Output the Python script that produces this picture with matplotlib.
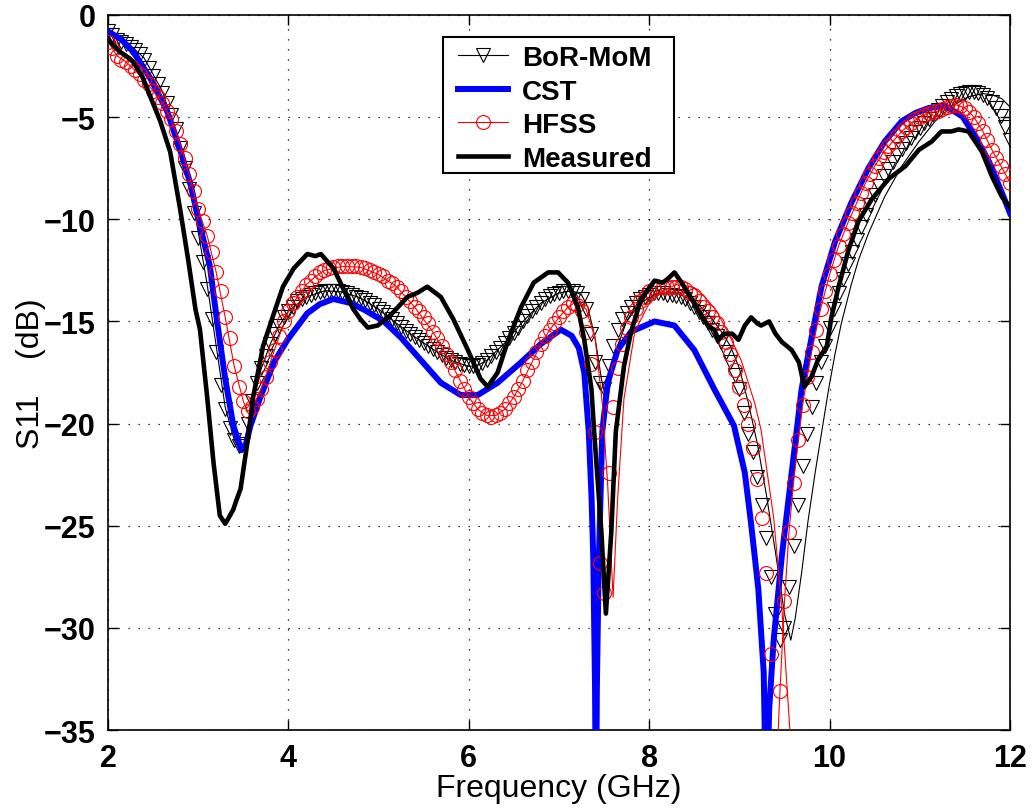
import numpy as np
import matplotlib
matplotlib.use("Agg")
import matplotlib.pyplot as plt
from matplotlib.lines import Line2D
from matplotlib.patches import Rectangle

plt.rcParams['font.family'] = ['Liberation Sans', 'DejaVu Sans']

# ---------------- data ----------------
# marker frequency grid (GHz), 0.05 GHz step
marker_freq = np.round(np.arange(2.0, 12.0001, 0.05), 2)

bor_markers = [
    -0.8, -1.0, -1.2, -1.3, -1.4, -1.55, -1.7, -1.9, -2.2, -2.6,
    -3.0, -3.4, -3.8, -4.3, -4.9, -5.6, -6.5, -7.5, -8.5, -9.7,
    -10.9, -12.1, -13.4, -14.9, -16.5, -18.1, -19.3, -20.2, -20.8, -21.1,
    -21.0, -20.0, -18.9, -18.0, -17.3, -16.7, -16.1, -15.6, -15.2, -14.8,
    -14.5, -14.3, -14.0, -13.9, -13.8, -13.7, -13.6, -13.55, -13.5, -13.5,
    -13.5, -13.5, -13.55, -13.6, -13.7, -13.8, -13.85, -13.95, -14.1, -14.2,
    -14.4, -14.55, -14.7, -14.9, -15.1, -15.25, -15.45, -15.6, -15.75, -15.9,
    -16.05, -16.2, -16.35, -16.5, -16.65, -16.8, -16.9, -17.0, -17.1, -17.15,
    -17.2, -17.2, -17.15, -17.05, -16.9, -16.7, -16.5, -16.3, -16.05, -15.8,
    -15.55, -15.3, -15.0, -14.75, -14.5, -14.3, -14.1, -13.9, -13.75, -13.65,
    -13.6, -13.5, -13.5, -13.5, -13.6, -13.9, -14.4, -15.6, -17.0, -18.0,
    -18.3, -17.2, -16.2, -15.4, -14.9, -14.6, -14.3, -14.1, -13.9, -13.8,
    -13.7, -13.6, -13.6, -13.6, -13.7, -13.7, -13.75, -13.8, -13.9, -14.1,
    -14.3, -14.55, -14.8, -15.1, -15.4, -15.7, -16.0, -16.5, -17.0, -17.6,
    -18.3, -19.5, -20.5, -21.4, -22.6, -24.0, -25.6, -27.5, -29.3, -30.6,
    -30.0, -28.0, -26.0, -24.0, -22.1, -20.5, -19.2, -18.0, -17.0, -16.2,
    -15.3, -14.4, -13.6, -12.9, -12.2, -11.6, -11.0, -10.4, -9.8, -9.3,
    -8.8, -8.35, -7.9, -7.55, -7.2, -6.85, -6.55, -6.25, -6.0, -5.75,
    -5.55, -5.3, -5.1, -4.85, -4.65, -4.45, -4.25, -4.1, -3.95, -3.85,
    -3.8, -3.75, -3.75, -3.8, -3.9, -4.05, -4.25, -4.55, -4.95, -5.5,
    -6.1,
]

hfss_markers = [
    -1.3, -1.6, -2.0, -2.2, -2.3, -2.5, -2.7, -2.9, -3.2, -3.4,
    -3.7, -4.0, -4.3, -4.7, -5.1, -5.7, -6.3, -7.0, -7.8, -8.6,
    -9.5, -10.1, -10.8, -11.6, -12.6, -13.5, -14.8, -15.8, -17.2, -18.2,
    -18.9, -19.4, -19.2, -18.8, -18.3, -17.7, -17.0, -16.4, -15.7, -15.0,
    -14.5, -14.1, -13.8, -13.5, -13.2, -13.0, -12.8, -12.6, -12.5, -12.4,
    -12.35, -12.3, -12.3, -12.3, -12.3, -12.3, -12.35, -12.4, -12.5, -12.6,
    -12.7, -12.8, -13.0, -13.1, -13.3, -13.5, -13.8, -14.0, -14.3, -14.5,
    -14.8, -15.1, -15.5, -15.8, -16.2, -16.6, -17.0, -17.4, -17.9, -18.3,
    -18.7, -19.0, -19.3, -19.5, -19.6, -19.7, -19.6, -19.5, -19.3, -19.0,
    -18.7, -18.3, -17.9, -17.4, -17.0, -16.5, -16.1, -15.7, -15.4, -15.1,
    -14.8, -14.5, -14.3, -14.1, -14.2, -14.5, -15.5, -17.1, -20.4, -26.8,
    -28.3, -22.4, -19.2, -17.3, -16.1, -15.3, -14.8, -14.4, -14.0, -13.8,
    -13.5, -13.4, -13.3, -13.3, -13.3, -13.3, -13.3, -13.3, -13.4, -13.6,
    -13.7, -14.0, -14.3, -14.5, -14.8, -15.1, -15.5, -16.0, -16.6, -17.4,
    -18.2, -19.1, -20.0, -21.2, -22.7, -24.6, -27.3, -31.3, -38.0, -33.1,
    -28.7, -25.3, -22.9, -20.8, -19.1, -17.7, -16.5, -15.4, -14.4, -13.5,
    -12.7, -12.0, -11.3, -10.7, -10.2, -9.7, -9.2, -8.7, -8.2, -7.8,
    -7.4, -7.0, -6.7, -6.4, -6.2, -5.9, -5.7, -5.5, -5.3, -5.1,
    -5.0, -4.9, -4.8, -4.75, -4.7, -4.6, -4.5, -4.45, -4.4, -4.45,
    -4.55, -4.75, -5.0, -5.3, -5.7, -6.1, -6.6, -7.0, -7.4, -7.8,
    -8.2,
]

bor_line_freq = [2.0, 2.2, 2.4, 2.6, 2.8, 2.9, 3.0, 3.1, 3.2, 3.3, 3.4, 3.45, 3.5,
                 3.55, 3.6, 3.7, 3.8, 3.9, 4.0, 4.2, 4.4, 4.6, 4.8, 5.0, 5.2, 5.4,
                 5.6, 5.8, 6.0, 6.1, 6.2, 6.4, 6.6, 6.8, 7.0, 7.15, 7.25, 7.32, 7.4,
                 7.47, 7.53, 7.58, 7.65, 7.75, 7.9, 8.1, 8.3, 8.5, 8.65, 8.8, 8.9,
                 9.0, 9.1, 9.2, 9.3, 9.4, 9.5, 9.57, 9.62, 9.69, 9.76, 9.84, 9.92,
                 9.99, 10.06, 10.13, 10.24, 10.32, 10.43, 10.61, 10.8, 10.99, 11.17,
                 11.36, 11.54, 11.7, 11.8, 11.91, 12.0]
bor_line_db = [-0.7, -1.3, -2.1, -3.7, -6.3, -8.3, -10.6, -13.2, -16.2, -19.2, -20.8,
               -21.2, -21.1, -20.2, -19.0, -17.3, -16.1, -15.2, -14.5, -13.8, -13.5,
               -13.55, -13.85, -14.4, -15.1, -15.75, -16.35, -16.9, -17.2, -17.15,
               -16.9, -16.05, -15.0, -14.1, -13.6, -13.5, -13.7, -14.3, -15.8, -17.8,
               -19.0, -17.8, -16.2, -15.0, -14.1, -13.6, -13.6, -14.0, -14.6, -15.5,
               -16.2, -17.3, -19.0, -21.0, -23.5, -26.3, -29.3, -30.6, -29.5, -27.3,
               -24.8, -22.4, -20.2, -18.3, -16.6, -15.1, -13.2, -12.0, -10.7, -8.9,
               -7.4, -6.2, -5.2, -4.45, -4.0, -3.85, -3.9, -4.1, -4.5]

cst_freq = [2.0, 2.15, 2.28, 2.47, 2.66, 2.8, 2.91, 3.02, 3.13, 3.21, 3.3, 3.39, 3.48,
            3.53, 3.58, 3.69, 3.84, 3.99, 4.21, 4.35, 4.5, 4.69, 4.85, 5.06, 5.25,
            5.47, 5.69, 5.91, 6.1, 6.32, 6.58, 6.8, 7.02, 7.14, 7.22, 7.28, 7.33,
            7.36, 7.38, 7.4, 7.41, 7.42, 7.44, 7.48, 7.54, 7.65, 7.8, 8.06, 8.28,
            8.5, 8.72, 8.94, 9.06, 9.13, 9.21, 9.27, 9.3, 9.33, 9.38, 9.47, 9.58,
            9.69, 9.8, 9.91, 10.06, 10.24, 10.43, 10.61, 10.8, 10.95, 11.1, 11.28,
            11.47, 11.61, 11.77, 11.91, 12.0]
cst_db = [-0.8, -1.2, -1.8, -3.1, -4.75, -6.6, -8.2, -10.3, -12.3, -15.0, -17.8,
          -20.1, -21.3, -21.0, -20.1, -18.7, -17.0, -15.9, -14.6, -14.15, -13.9,
          -14.1, -14.45, -15.0, -15.8, -16.9, -18.0, -18.6, -18.6, -18.0, -17.0,
          -16.1, -15.4, -15.7, -16.3, -17.5, -20.4, -23.5, -26.5, -33.0, -40.0,
          -33.0, -27.0, -20.4, -18.0, -16.4, -15.5, -15.0, -15.2, -16.4, -18.3,
          -20.1, -22.4, -24.9, -28.1, -32.2, -40.0, -34.0, -30.6, -26.5, -22.4,
          -18.3, -15.8, -13.3, -11.1, -9.2, -7.5, -6.2, -5.2, -4.8, -4.55, -4.45,
          -4.95, -5.9, -7.2, -8.7, -9.7]

hfss_line_freq = [2.0, 2.1, 2.2, 2.3, 2.4, 2.5, 2.6, 2.7, 2.8, 2.9, 3.0, 3.1, 3.2,
                  3.3, 3.4, 3.5, 3.55, 3.6, 3.7, 3.8, 3.9, 4.0, 4.1, 4.2, 4.3, 4.4,
                  4.6, 4.8, 5.0, 5.2, 5.4, 5.6, 5.8, 6.0, 6.1, 6.2, 6.3, 6.4, 6.5,
                  6.6, 6.7, 6.8, 6.9, 7.0, 7.1, 7.2, 7.3, 7.4, 7.48, 7.54, 7.6, 7.65,
                  7.72, 7.84, 7.99, 8.15, 8.3, 8.47, 8.6, 8.75, 8.88, 9.02, 9.17,
                  9.24, 9.38, 9.47, 9.56, 9.6, 9.4, 9.43, 9.45, 9.5, 9.55, 9.6, 9.7,
                  9.8, 9.9, 10.0, 10.1, 10.2, 10.3, 10.4, 10.5, 10.6, 10.7, 10.8,
                  10.9, 11.0, 11.1, 11.2, 11.3, 11.4, 11.5, 11.6, 11.7, 11.8, 11.9,
                  12.0]
hfss_line_db = [-1.3, -2.0, -2.3, -2.7, -3.2, -3.7, -4.3, -5.1, -6.3, -7.8, -9.5,
                -10.8, -12.6, -14.8, -17.2, -18.9, -19.4, -19.2, -18.3, -17.0, -15.7,
                -14.5, -13.8, -13.2, -12.8, -12.5, -12.3, -12.35, -12.7, -13.3, -14.3,
                -15.5, -17.0, -18.7, -19.3, -19.6, -19.6, -19.3, -18.7, -17.9, -17.0,
                -16.1, -15.4, -14.8, -14.3, -14.0, -14.4, -15.8, -19.0, -23.0, -28.5,
                -23.7, -18.8, -15.5, -14.2, -13.5, -13.2, -13.3, -13.7, -14.5, -15.6,
                -16.9, -19.0, -20.3, -24.6, -29.0, -35.0, -38.0, -38.0, -35.0, -33.1,
                -28.7, -25.3, -22.9, -19.1, -16.5, -14.4, -12.7, -11.3, -10.2, -9.2,
                -8.2, -7.4, -6.7, -6.2, -5.7, -5.3, -5.0, -4.8, -4.7, -4.5, -4.4,
                -4.55, -5.0, -5.7, -6.6, -7.4, -8.2]

meas_freq = [2.0, 2.13, 2.2, 2.28, 2.38, 2.47, 2.58, 2.69, 2.8, 2.89, 2.97, 3.02,
             3.1, 3.17, 3.24, 3.3, 3.34, 3.39, 3.42, 3.47, 3.54, 3.61, 3.72, 3.84,
             3.94, 4.06, 4.21, 4.3, 4.36, 4.5, 4.61, 4.72, 4.8, 4.88, 4.99, 5.13,
             5.32, 5.43, 5.54, 5.69, 5.83, 5.99, 6.13, 6.21, 6.32, 6.43, 6.58, 6.72,
             6.88, 6.99, 7.1, 7.21, 7.28, 7.36, 7.39, 7.47, 7.52, 7.58, 7.63, 7.72,
             7.8, 7.91, 8.06, 8.15, 8.21, 8.28, 8.36, 8.47, 8.58, 8.65, 8.72, 8.77,
             8.83, 8.92, 8.99, 9.06, 9.13, 9.2, 9.24, 9.33, 9.4, 9.47, 9.58, 9.66,
             9.72, 9.8, 9.87, 9.97, 10.02, 10.1, 10.21, 10.32, 10.47, 10.66, 10.84,
             10.99, 11.13, 11.24, 11.35, 11.43, 11.54, 11.69, 11.8, 11.91, 12.0]
meas_db = [-1.2, -1.8, -2.0, -2.3, -3.0, -4.0, -5.2, -6.7, -9.5, -12.0, -14.4, -15.4,
           -18.7, -21.9, -24.5, -24.9, -24.6, -24.2, -23.8, -23.2, -21.1, -18.7,
           -16.2, -14.6, -13.3, -12.4, -11.7, -11.8, -11.7, -12.4, -13.4, -14.4,
           -14.9, -15.3, -15.2, -14.7, -13.8, -13.6, -13.3, -13.8, -14.9, -16.4,
           -17.8, -18.2, -17.5, -16.0, -14.3, -13.1, -12.6, -12.6, -13.1, -14.3,
           -15.9, -18.3, -20.4, -25.3, -29.3, -25.3, -20.4, -17.2, -15.5, -13.9,
           -13.0, -13.1, -12.9, -12.6, -13.1, -13.9, -14.7, -15.2, -15.4, -15.9,
           -15.6, -15.6, -15.9, -15.2, -14.8, -15.1, -15.2, -15.0, -15.6, -16.0,
           -16.4, -17.0, -18.2, -17.7, -16.9, -16.2, -14.8, -13.3, -11.5, -10.1,
           -9.0, -8.0, -7.4, -6.6, -6.2, -5.7, -5.7, -5.6, -5.7, -6.7, -7.9, -8.9,
           -9.4]

x_ticks = [2, 4, 6, 8, 10, 12]
y_ticks = [0, -5, -10, -15, -20, -25, -30, -35]

# ---------------- figure ----------------
fig = plt.figure(figsize=(10.36, 8.12), dpi=100)
ax = fig.add_axes([0.1042, 0.0997, 0.8707, 0.8806])

# BoR-MoM
ax.plot(bor_line_freq, bor_line_db, color='black', lw=0.8, zorder=3)
ax.plot(marker_freq, bor_markers, linestyle='none', marker='v', markersize=10,
        markerfacecolor='none', markeredgecolor='black', markeredgewidth=0.8, zorder=3)
# CST
ax.plot(cst_freq, cst_db, color='#0000ff', lw=4.3, zorder=4)
# HFSS
ax.plot(hfss_line_freq, hfss_line_db, color='#ff0000', lw=0.8, zorder=5)
ax.plot(marker_freq, hfss_markers, linestyle='none', marker='o', markersize=10,
        markerfacecolor='none', markeredgecolor='#ff0000', markeredgewidth=0.8, zorder=5)
# Measured
ax.plot(meas_freq, meas_db, color='black', lw=3.3, zorder=6)

ax.set_xlim(2, 12)
ax.set_ylim(-35, 0)
ax.set_xticks(x_ticks)
ax.set_yticks(y_ticks)
ax.set_xticklabels([str(v) for v in x_ticks], fontsize=22, fontweight='bold')
ax.set_yticklabels([str(v).replace('-', '\u2212') for v in y_ticks],
                   fontsize=22, fontweight='bold')
ax.tick_params(direction='in', length=7, width=1, top=True, right=True, pad=9)
ax.grid(True, color='black', linestyle=(0, (1, 7)), linewidth=0.9)
for s in ax.spines.values():
    s.set_linewidth(1.2)

ax.set_xlabel('Frequency (GHz)', fontsize=23, labelpad=0)
ax.set_ylabel('S11    (dB)', fontsize=23, labelpad=-2)

handles = [
    Line2D([], [], color='black', lw=0.8, marker='v', markersize=10,
           markerfacecolor='none', markeredgewidth=0.8),
    Line2D([], [], color='#0000ff', lw=4.3),
    Line2D([], [], color='#ff0000', lw=0.8, marker='o', markersize=10,
           markerfacecolor='none', markeredgewidth=0.8),
    Line2D([], [], color='black', lw=3.3),
]
labels = ['BoR-MoM', 'CST', 'HFSS', 'Measured']
leg = ax.legend(handles, labels, loc='upper left', bbox_to_anchor=(0.388, 0.958),
                frameon=False, prop={'size': 20, 'weight': 'bold'},
                handlelength=1.8, handletextpad=0.5, labelspacing=0.27,
                borderpad=0.0, borderaxespad=0)
leg.set_zorder(10)
# legend frame (white box with black edge)
frame = Rectangle((0.3714, 0.779), 0.2561, 0.1902, transform=ax.transAxes,
                  facecolor='white', edgecolor='black', linewidth=1.5, zorder=9)
ax.add_patch(frame)

fig.savefig('out.png', dpi=100)
